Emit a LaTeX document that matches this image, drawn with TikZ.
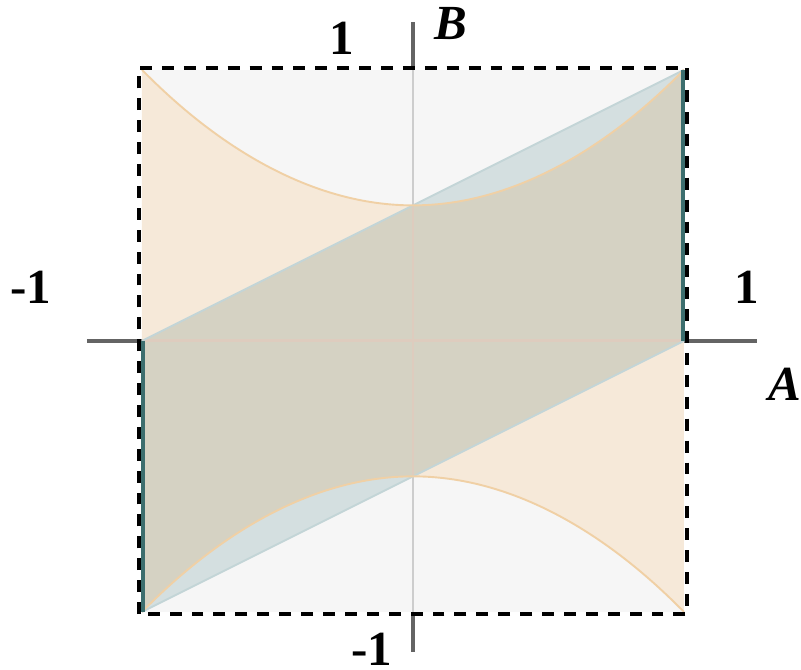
\documentclass[tikz,border=0pt]{standalone}
\usepackage{fontspec}
\setmainfont{Liberation Serif}
\usepackage{xcolor}
\usetikzlibrary{arrows,shapes,positioning,calc}

\definecolor{bggray}{RGB}{246,246,246}
\definecolor{peach}{RGB}{246,233,217}
\definecolor{paleblue}{RGB}{212,223,224}
\definecolor{olivegray}{RGB}{213,210,195}
\definecolor{peachline}{RGB}{240,208,165}
\definecolor{blueline}{RGB}{195,213,215}
\definecolor{tealedge}{RGB}{60,110,110}
\definecolor{axisgray}{RGB}{100,100,100}
\definecolor{inaxis}{RGB}{205,205,205}
\definecolor{inaxispink}{RGB}{222,204,190}

\begin{document}
\begin{tikzpicture}[scale=2,
    axis/.style={axisgray, line width=0.7pt},
    lbl/.style={inner sep=0pt, font=\fontsize{10.3}{12}\selectfont\bfseries}]
    \useasboundingbox (-1.524,-1.214) rectangle (1.432,1.258);

    % Axes
    \draw[axis] (-1.203,0) -- (1.269,0);
    \draw[axis] (0,-1.148) -- (0,1.177);

    % Square
    \fill[bggray] (-1,-1) rectangle (1,1);
    \draw[inaxis, line width=0.6pt] (-1,0) -- (1,0);
    \draw[inaxis, line width=0.6pt] (0,-1) -- (0,1);

    % Region between the curves
    \fill[peach] (-1,1) parabola bend (0,0.5) (1,1) -- (1,-1)
        parabola bend (0,-0.5) (-1,-1) -- cycle;

    % Parallelogram
    \fill[paleblue] (-1,-1) -- (-1,0) -- (1,1) -- (1,0) -- cycle;

    % Overlap
    \begin{scope}
        \clip (-1,-1) -- (-1,0) -- (1,1) -- (1,0) -- cycle;
        \fill[olivegray] (-1,1) parabola bend (0,0.5) (1,1) -- (1,-1)
            parabola bend (0,-0.5) (-1,-1) -- cycle;
    \end{scope}
    \draw[inaxispink, line width=0.6pt] (-1,0) -- (1,0);
    \draw[inaxispink, line width=0.6pt] (0,-0.5) -- (0,0.5);

    % Edges
    \draw[blueline, line width=0.4pt] (-1,0) -- (1,1);
    \draw[blueline, line width=0.4pt] (-1,-1) -- (1,0);
    \draw[peachline, line width=0.4pt] (-1,1) parabola bend (0,0.5) (1,1);
    \draw[peachline, line width=0.4pt] (-1,-1) parabola bend (0,-0.5) (1,-1);
    \draw[tealedge, line width=0.85pt] (-0.996,0) -- (-0.996,-1);
    \draw[tealedge, line width=0.85pt] (0.996,0) -- (0.996,1);

    % Dashed border
    \draw[black, line width=0.85pt, dash pattern=on 2.5pt off 2.1pt] (-1.012,-1.008) rectangle (1.012,1.008);

    % Labels
    \node[lbl] (topone) at (-0.262,1.116) {1};
    \node[lbl] (blabel) at (0.140,1.170) {\itshape B};
    \node[lbl] (leftone) at (-1.410,0.199) {-1};
    \node[lbl] (rightone) at (1.232,0.199) {1};
    \node[lbl] (alabel) at (1.373,-0.162) {\itshape A};
    \node[lbl] (bottomone) at (-0.151,-1.137) {-1};
\end{tikzpicture}
\end{document}
